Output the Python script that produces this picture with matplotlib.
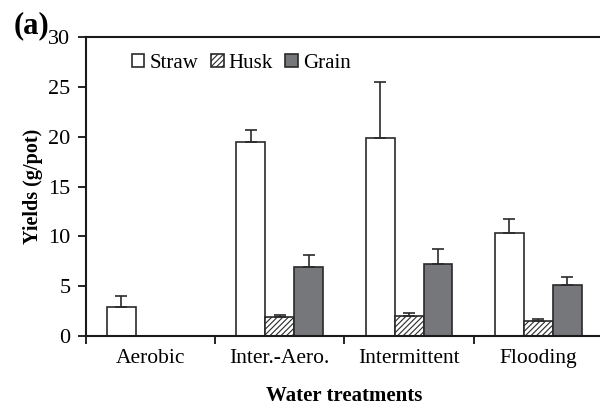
import matplotlib.pyplot as plt
import numpy as np

plt.rcParams['font.family'] = ['Liberation Serif', 'DejaVu Serif']
plt.rcParams['hatch.linewidth'] = 0.8

treatments = ['Aerobic', 'Inter.-Aero.', 'Intermittent', 'Flooding']
straw = [2.9, 19.5, 19.9, 10.3]
straw_err = [1.1, 1.15, 5.55, 1.45]
husk = [0, 1.95, 2.05, 1.55]
husk_err = [0, 0.2, 0.3, 0.12]
grain = [0, 6.95, 7.2, 5.1]
grain_err = [0, 1.15, 1.5, 0.8]

fig = plt.figure(figsize=(6, 4.05), dpi=100)
ax = fig.add_axes([0.143, 0.170, 0.862, 0.739])

x = np.arange(len(treatments))
w = 0.224
edge = '#2a2a2a'

def draw(vals, errs, offset, color, hatch, label):
    vals = np.array(vals)
    errs = np.array(errs)
    ax.bar(x + offset, vals, w, color=color, edgecolor=edge, linewidth=1.2,
           hatch=hatch, label=label, zorder=2)
    show = vals > 0
    ax.errorbar((x + offset)[show], vals[show],
                yerr=[np.zeros(show.sum()), errs[show]],
                fmt='none', ecolor=edge, elinewidth=1.2, capsize=4,
                capthick=1.2, zorder=3)

draw(straw, straw_err, -w, 'white', None, 'Straw')
draw(husk, husk_err, 0, 'white', '//////', 'Husk')
draw(grain, grain_err, w, '#76777a', None, 'Grain')

ax.set_xlim(-0.5, 3.5)
ax.set_ylim(0, 30)
ax.set_yticks([0, 5, 10, 15, 20, 25, 30])
ax.set_xticks(x)
ax.set_xticklabels(treatments)
ax.set_xticks([-0.5, 0.5, 1.5, 2.5, 3.5], minor=True)
ax.tick_params(axis='x', which='major', length=0, pad=9, labelsize=15.5)
ax.tick_params(axis='x', which='minor', length=6, width=1.2, direction='out')
ax.tick_params(axis='y', length=6, width=1.2, direction='out', labelsize=16,
               pad=5)

ax.spines['right'].set_visible(False)
for s in ['left', 'bottom', 'top']:
    ax.spines[s].set_linewidth(1.5)
    ax.spines[s].set_color('#1a1a1a')

ax.set_ylabel('Yields (g/pot)', fontsize=14.5, fontweight='bold', labelpad=4)
ax.set_xlabel('Water treatments', fontsize=15, fontweight='bold', labelpad=13)

ax.legend(loc='upper left', bbox_to_anchor=(0.065, 0.985), ncol=3, frameon=False,
          fontsize=15, handlelength=0.6, handleheight=0.6, handletextpad=0.25,
          columnspacing=0.6, borderaxespad=0.2)

fig.text(0.022, 0.918, '(a)', fontsize=22, fontweight='bold')

fig.savefig('out.png', dpi=100)
